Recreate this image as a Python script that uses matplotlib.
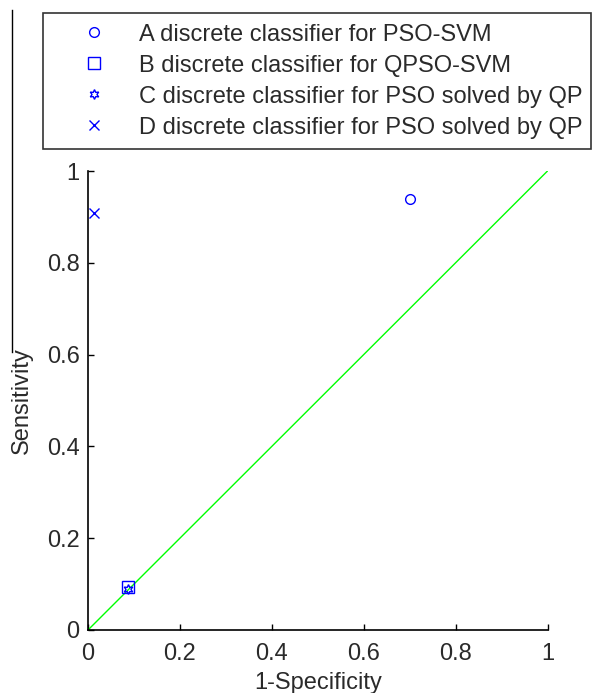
import matplotlib
matplotlib.use("Agg")
import matplotlib.pyplot as plt
from matplotlib.lines import Line2D

plt.rcParams['font.family'] = ['Liberation Sans', 'DejaVu Sans']

# points (1-specificity, sensitivity)
labels = ['A discrete classifier for PSO-SVM',
          'B discrete classifier for QPSO-SVM',
          'C discrete classifier for PSO solved by QP',
          'D discrete classifier for PSO solved by QP']
fpr = [0.70, 0.088, 0.088, 0.012]
tpr = [0.939, 0.094, 0.090, 0.908]
markers = ['o', 's', (6, 1, 0), 'x']   # (6,1,0) ~ MATLAB hexagram
msizes = [7, 8, 7, 7]

diag_x = [0, 1]
diag_y = [0, 1]
ticks = [0, 0.2, 0.4, 0.6, 0.8, 1]
tick_labels = ['0', '0.2', '0.4', '0.6', '0.8', '1']

fig = plt.figure(figsize=(5.92, 6.93), dpi=100)
ax = fig.add_axes([88/592, 1 - 630/693, 459.5/592, 459/693])

ax.plot(diag_x, diag_y, color=(0, 1, 0), lw=1)
for x, y, m, ms, lab in zip(fpr, tpr, markers, msizes, labels):
    ax.plot([x], [y], linestyle='none', marker=m, markersize=ms,
            markerfacecolor='none', markeredgecolor='blue',
            markeredgewidth=1, label=lab, clip_on=False)

ax.set_xlim(0, 1)
ax.set_ylim(0, 1)
ax.set_xticks(ticks)
ax.set_xticklabels(tick_labels)
ax.set_yticks(ticks)
ax.set_yticklabels(tick_labels)
ax.spines['top'].set_visible(False)
ax.spines['right'].set_visible(False)
for s in ['left', 'bottom']:
    ax.spines[s].set_linewidth(1.2)
ax.tick_params(direction='in', length=4.5, width=1, labelsize=17,
               colors='black', labelcolor='#2a2a2a')
ax.tick_params(axis='x', pad=9.5)
ax.tick_params(axis='y', pad=6)
ax.set_xlabel('1-Specificity', fontsize=17, color='#2a2a2a', labelpad=5)
ax.set_ylabel('Sensitivity', fontsize=17, color='#2a2a2a', labelpad=10)

h, l = ax.get_legend_handles_labels()
leg = fig.legend(h, l, loc='upper left',
                 bbox_to_anchor=(43/592, 1 - 147/693, 548/592, 134/693),
                 mode='expand', fontsize=17, frameon=True, fancybox=False,
                 borderaxespad=0, borderpad=0.45, labelspacing=0.38,
                 handlelength=3.4, handletextpad=0.2)
leg.get_frame().set_edgecolor('black')
leg.get_frame().set_linewidth(1.2)
for t in leg.get_texts():
    t.set_color('#2a2a2a')

# stray vertical rule on the left edge of the original figure
fig.add_artist(Line2D([12/592, 12/592], [1 - 10/693, 1 - 352/693],
                      color='black', lw=1))

fig.savefig('out.png', dpi=100)
